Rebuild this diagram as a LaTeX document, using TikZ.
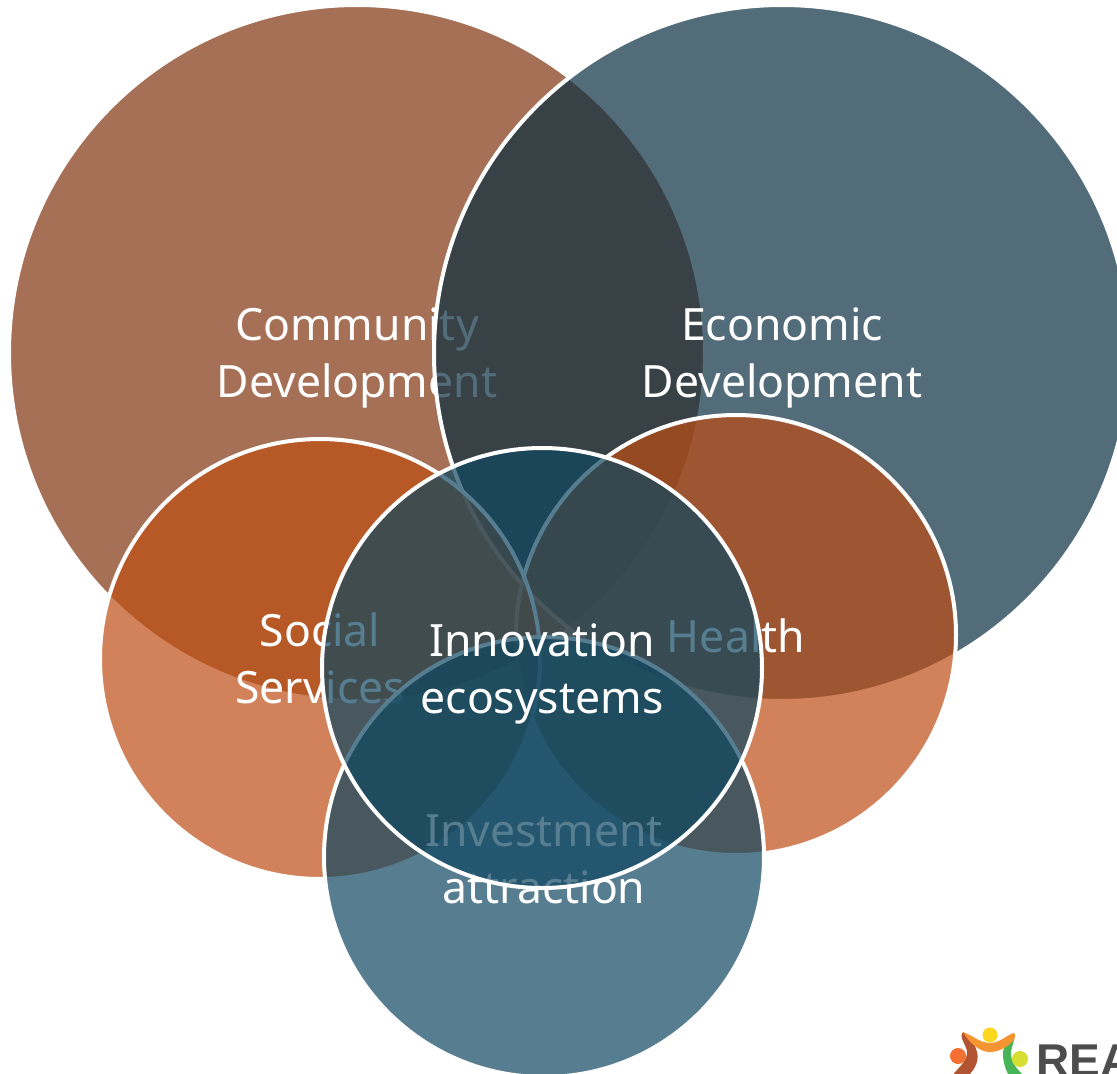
\documentclass[tikz,border=0pt]{standalone}
\usepackage{fontspec}
\setmainfont{Noto Sans}
\newfontfamily\logofont{Liberation Sans}
\definecolor{brownC}{HTML}{7F340D}
\definecolor{slateC}{HTML}{0A2F41}
\definecolor{orangeC}{HTML}{BF4E14}
\definecolor{tealC}{HTML}{0F4761}
\tikzset{
  venn/.style={circle,inner sep=0pt,outer sep=0pt,draw=white,line width=4pt,
    fill opacity=.7,draw opacity=1},
  big/.style={venn,minimum size=696pt},
  small/.style={venn,minimum size=440pt},
  vennlabel/.style={align=center,inner sep=0pt,text=white,
    font=\fontsize{44.5}{57}\selectfont},
}
\begin{document}
\begin{tikzpicture}[x=1pt,y=-1pt]
\useasboundingbox (0,0) rectangle (1117,1074);
\clip (0,0) rectangle (1117,1074);
\fill[white] (0,0) rectangle (1117,1074);
\node[big,fill=brownC] (community) at (357,353) {};
\node[vennlabel] (communityT) at (357,358) {Community\\Development};
\node[big,fill=slateC] (economic) at (782,353) {};
\node[vennlabel] (economicT) at (782,358) {Economic\\Development};
\node[small,fill=orangeC] (health) at (736,635) {};
\node[vennlabel] (healthT) at (736,636) {Health};
\node[small,fill=orangeC] (social) at (320,659) {};
\node[vennlabel] (socialT) at (320,658) {Social\\Services};
\node[small,fill=tealC] (investment) at (544,857) {};
\node[vennlabel] (investmentT) at (544,859) {Investment\\attraction};
\node[small,fill=tealC] (innovation) at (542,668) {};
\node[vennlabel] (innovationT) at (542,674) {Innovation\\ecosystems};
% logo
\fill[color={rgb,255:red,178;green,84;blue,50}] (963,1032) .. controls (958,1038) and (968,1046) .. (967,1054) .. controls (966,1062) and (958,1068) .. (952,1076) -- (968,1076) .. controls (976,1068) and (979,1060) .. (977,1052) .. controls (975,1044) and (970,1036) .. (963,1032) -- cycle;
\fill[color={rgb,255:red,72;green,180;blue,88}] (1014,1033) .. controls (1008,1040) and (1003,1046) .. (1003,1054) .. controls (1003,1062) and (1005,1068) .. (1009,1076) -- (1024,1076) .. controls (1016,1068) and (1011,1062) .. (1011,1054) .. controls (1011,1046) and (1016,1040) .. (1014,1033) -- cycle;
\fill[color={rgb,255:red,247;green,148;blue,50}] (963,1032) .. controls (972,1035) and (980,1043) .. (990,1043) .. controls (1000,1043) and (1008,1034) .. (1014,1033) .. controls (1016,1034) and (1015,1039) .. (1013,1041) .. controls (1006,1048) and (998,1052) .. (990,1052) .. controls (980,1052) and (970,1044) .. (963,1032) -- cycle;
\node[circle,fill={rgb,255:red,253;green,214;blue,30},minimum size=15pt,inner sep=0pt] (logoA) at (990,1035) {};
\node[circle,fill={rgb,255:red,243;green,112;blue,50},minimum size=16pt,inner sep=0pt] (logoB) at (958,1056) {};
\node[circle,fill={rgb,255:red,214;green,222;blue,50},minimum size=16pt,inner sep=0pt] (logoC) at (1020,1059) {};
\node[anchor=base west,inner sep=0pt,text={rgb,255:red,77;green,77;blue,77},font=\logofont\bfseries\fontsize{46}{46}\selectfont] (logotext) at (1036,1076) {REA};
\end{tikzpicture}
\end{document}
